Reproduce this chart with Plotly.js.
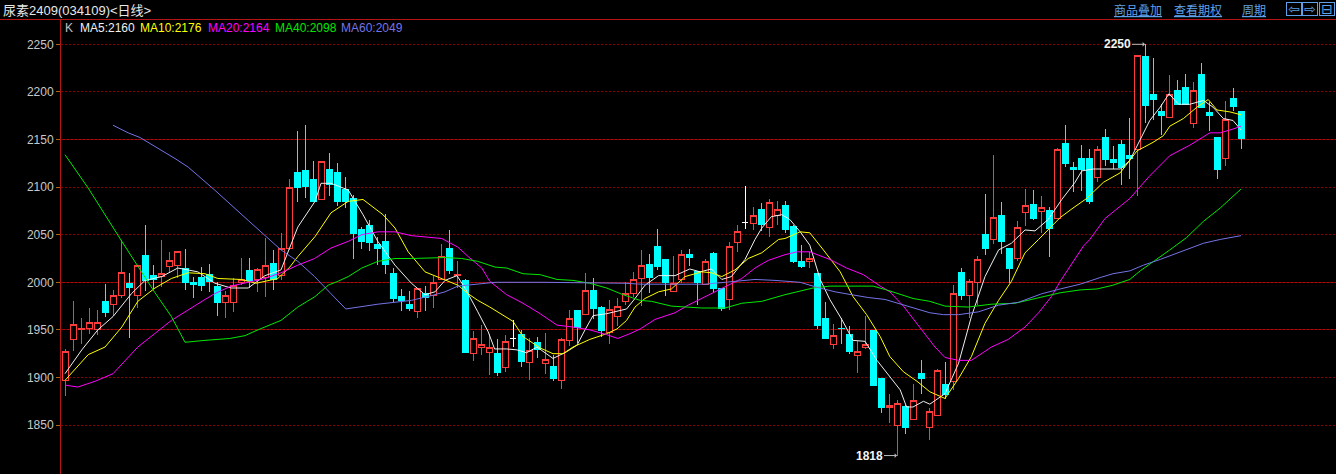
<!DOCTYPE html>
<html><head><meta charset="utf-8">
<script src="https://cdn.plot.ly/plotly-3.0.1.min.js"></script>
<style>html,body{margin:0;padding:0;background:#000;overflow:hidden}#chart{width:1336px;height:474px}
#chart .boxlayer path{shape-rendering:crispEdges}
#chart .shapelayer path{shape-rendering:crispEdges}
#chart .gridlayer path{shape-rendering:crispEdges}
</style>
</head><body><div id="chart"></div>
<script>
// ---- data ----
const titleText = '尿素2409(034109)<日线>';
const openP = [1897,1940,1950,1952,1950,1980,1977,1986,1999,1986,2028,2007,2006,2017,2018,2015,2000,2005,2008,1996,
1979,1979,2000,2012,2003,2005,2020,2007,2035,2115,2117,2108,2087,2119,2115,2098,2088,2055,2060,2040,
2043,2009,1985,1977,1969,1988,1986,2003,2036,2007,2002,1925,1931,1926,1925,1910,1941,1945,1916,1937,
1915,1912,1897,1939,1970,1966,1991,1974,1947,1964,1980,1988,2004,2019,2038,2024,1990,2003,2029,2011,
1998,2030,1994,1982,2042,2063,2062,2076,2058,2070,2081,2059,2022,2022,2009,1962,1935,1952,1945,1923,
1932,1949,1899,1869,1850,1870,1856,1904,1847,1860,1893,1896,2010,1986,2000,2050,2045,2070,2035,2025,
2073,2082,2074,2075,2067,2146,2121,2130,2130,2110,2152,2129,2145,2133,2139,2237,2197,2179,2173,2201,
2205,2167,2218,2178,2152,2130,2193,2179];
const highP = [1930,1980,1962,1973,1971,1998,1992,2044,2010,2018,2060,2018,2044,2032,2032,2035,2006,2016,2019,2000,
1991,2005,2026,2026,2015,2047,2034,2052,2108,2159,2165,2127,2127,2136,2125,2111,2092,2058,2065,2048,
2072,2015,1993,1991,1994,1996,2007,2040,2055,2022,2003,1949,1955,1946,1940,1945,1960,1950,1941,1943,
1947,1924,1941,1971,1970,2010,2005,1975,1981,1983,2000,2011,2034,2030,2056,2024,2028,2034,2035,2011,
2025,2032,1994,2042,2060,2101,2079,2083,2088,2085,2085,2060,2039,2032,2009,1979,1956,1962,1954,1938,
1965,1949,1900,1883,1876,1871,1893,1918,1868,1909,1916,1997,2015,2003,2028,2093,2134,2084,2035,2064,
2098,2097,2091,2079,2141,2165,2126,2144,2140,2143,2161,2143,2149,2173,2238,2250,2236,2187,2218,2212,
2219,2210,2230,2189,2152,2190,2204,2180];
const lowP = [1881,1928,1935,1946,1945,1964,1965,1983,1942,1973,1991,1993,1995,2010,2005,1992,1984,1991,1990,1965,
1963,1969,1997,1994,1990,1985,1992,2002,2034,2084,2089,2085,2087,2091,2080,2078,2025,2035,2033,2018,
2009,1979,1970,1970,1963,1970,1973,2003,2009,1994,1926,1917,1924,1903,1902,1906,1932,1911,1897,1920,
1904,1896,1888,1933,1936,1966,1961,1943,1935,1954,1976,1985,1975,1989,2013,1986,1990,1999,2017,1976,
1998,1989,1970,1971,2032,2056,2055,2054,2048,2060,2052,2020,2015,2015,1951,1940,1930,1935,1925,1905,
1930,1892,1863,1852,1818,1841,1855,1883,1834,1860,1877,1887,1981,1962,1976,2029,2040,2030,1999,2022,
2059,2065,2052,2027,2067,2121,2095,2096,2082,2105,2122,2119,2102,2108,2091,2167,2170,2155,2173,2187,
2186,2162,2183,2159,2109,2122,2180,2140];
const closeP = [1927,1956,1952,1958,1958,1968,1986,2010,1995,2018,2002,2003,2009,2023,2032,2000,1998,1997,2001,1979,
1986,1997,2003,2002,2013,2018,2003,2035,2100,2100,2101,2085,2127,2103,2085,2085,2051,2043,2042,2036,
2019,1983,1981,1973,1994,1984,2000,2027,2012,2008,1926,1941,1935,1932,1905,1938,1941,1917,1928,1929,
1919,1899,1940,1962,1953,1991,1973,1949,1971,1975,1988,2003,2018,2005,2017,2000,1999,2029,2026,2000,
2022,1993,1972,2038,2053,2063,2070,2061,2084,2077,2055,2022,2017,2025,1955,1941,1944,1951,1927,1927,
1935,1892,1868,1871,1873,1848,1876,1899,1864,1907,1882,1988,1986,2001,2024,2035,2068,2043,2014,2058,
2081,2067,2079,2056,2139,2125,2119,2118,2085,2140,2129,2126,2121,2130,2238,2186,2192,2175,2197,2187,
2187,2201,2184,2175,2119,2171,2185,2151];

// moving-average lines (x = candle position)
const ma5X = [0,2.1,4.1,6,8.3,10,12.1,14.1,16.6,18.75,20.75,22.9,25,27,29.1,31.25,32,33.25,35.4,37.25,39.1,41.25,43.3,45,46.25,47.5,49,50,51.6,52.9,53.7,55.2,56.5,57.7,59,61,62.7,64,65,66,67.7,69,70.2,71.25,72.5,74.2,76.25,78.1,79.4,80.8,82.1,83.3,85,86.25,87.1,88.3,89.6,90.6,91.9,93.1,94.4,95.6,97.1,98.5,100,101.5,103.1,104.4,105.2,106,107.3,108.1,110,111.7,113.3,115,116.7,118.3,120,121.25,122.9,124.6,126.25,127.1,128.5,131.9,133.1,134.4,135.6,136.9,138,139.2,140.6,142.3,143.5,144.8,146,147];
const ma5Y = [1904,1929,1950,1964,1988,2002,2006,2015,2011,1999,1994,1994,2007,2013,2058,2085,2104,2104,2097,2071,2043,2018,1999,1987,1990,2002,2007,1994,1969,1948,1930,1930,1929,1926,1932,1920,1927,1934,1950,1965,1967,1970,1972,1983,1997,2007,2007,2014,2011,2014,2003,2006,2024,2045,2057,2069,2071,2066,2053,2039,2003,1982,1961,1939,1938,1918,1901,1887,1869,1869,1875,1872,1883,1915,1964,2006,2034,2041,2055,2054,2066,2087,2105,2117,2119,2119,2128,2150,2170,2184,2198,2187,2187,2191,2184,2172,2170,2160];
const ma10X = [0,2.9,5,7.1,9.1,11.25,13.3,15.4,17.5,19.1,22,23.9,26.6,28.1,29.1,31.25,33.25,35.4,37.25,38.4,39.75,41.25,42.9,45,47.1,49.1,50.4,51.6,53.1,54.4,56,57.25,59.4,61,62.25,63.5,65.6,67.7,69,70.2,71.25,72.5,74.2,75.8,77.5,79.6,80.8,82.1,83.75,85.4,87.1,89.2,90,91.9,93.1,94.8,96.9,98.5,100.2,101.9,103.1,104.8,106.5,108.1,110,111.7,113.3,115,116.7,118.3,120,121.7,123.3,124.4,126,127.7,129.8,131.9,134,136,137.3,138.1,139.8,141.5,142.9,144,145.6,147];
const ma10Y = [1897,1924,1932,1953,1980,1994,2004,2010,2009,2004,2003,1999,2004,2016,2027,2048,2073,2085,2087,2080,2071,2057,2032,2011,2004,1997,1988,1981,1974,1967,1959,1943,1931,1925,1925,1932,1940,1946,1951,1960,1974,1983,1990,1993,2006,2011,2010,2006,2013,2025,2031,2045,2046,2053,2052,2034,2011,1985,1966,1943,1922,1906,1896,1885,1878,1899,1922,1957,1981,2001,2031,2045,2059,2068,2078,2088,2105,2115,2138,2147,2154,2164,2172,2184,2192,2181,2179,2176];
const ma20X = [0,1.6,3.75,6,9.1,13.3,17.5,18.7,20.75,22.9,25,27,29.1,31.2,33.25,35.4,37.1,39.1,41.25,43.3,47.1,49.1,50.4,52.1,53.1,55.2,57.25,59.4,61.5,63.5,65.6,67.7,69.1,70.6,71.9,73.75,76.25,77.9,79.6,81.25,82.9,84.6,86.25,87.9,90,91.5,93.1,95.6,97.7,99.8,101.9,103.1,104.8,106,107.3,108.1,108.75,110,111.7,113.3,115.8,117.9,120,121.7,123.3,124.4,126,127.3,128.1,130,133.1,135.5,138.1,140.6,143.1,144.4,146,147];
const ma20Y = [1892,1890,1896,1904,1932,1960,1982,1988,1996,2000,2004,2010,2018,2025,2036,2043,2050,2053,2053,2049,2046,2037,2027,2015,2001,1987,1978,1967,1955,1953,1950,1945,1941,1946,1951,1961,1968,1976,1983,1990,1997,2004,2015,2023,2029,2032,2032,2024,2015,2008,1996,1990,1975,1962,1948,1939,1932,1921,1918,1918,1932,1940,1953,1968,1985,2001,2022,2038,2045,2067,2088,2111,2133,2144,2157,2157,2161,2164];
const ma40X = [0,2.9,7.1,11.25,13.3,15,17.5,20.6,22.5,24.1,27,29.1,31.25,32.9,34.1,35.4,37.1,39.1,41.25,43.3,47.5,49.6,51.6,53.75,55.2,57.25,59.4,61.5,63.5,65.6,67.7,69.75,71.9,73.3,75.8,79.6,82.5,84.6,87.1,89.1,90,91.5,93.5,95.6,97.7,101,102.7,106,108.1,110,112.9,115.8,118.75,121.25,124.4,126.9,129,131,133.1,134.4,136.5,138.1,140.2,142.3,144.4,147];
const ma40Y = [2134,2099,2043,1989,1964,1937,1939,1941,1944,1950,1960,1974,1985,1997,2001,2006,2015,2022,2025,2025,2026,2025,2022,2016,2015,2009,2008,2003,2002,1999,1994,1987,1981,1980,1975,1973,1973,1978,1980,1985,1987,1990,1994,1996,1996,1996,1992,1983,1980,1975,1974,1977,1978,1983,1989,1992,1993,1997,2003,2012,2024,2034,2047,2064,2078,2098];
const ma60X = [6,7.9,9.4,10.4,12.1,13.75,15.4,17.1,18.7,22.9,25,27,29.1,31.2,33.25,35.1,39.1,43.3,45.8,47.5,49.1,51.6,53.75,60,70,72,80,83.75,86.25,88.75,90,91.9,93.9,96.25,98.3,100.4,102.5,104.6,106.7,108.1,109.8,111.7,114.2,116.7,119.2,122.1,124.4,126.9,129.4,131,133.1,134.8,136.9,138.5,140.6,142.3,144.4,147];
const ma60Y = [2165,2157,2152,2147,2139,2130,2121,2109,2097,2065,2049,2034,2022,2006,1988,1972,1977,1981,1986,1990,1996,1998,2000,2000,1999,1998,1998,2001,2003,2002,2001,2000,1995,1990,1987,1984,1982,1977,1972,1968,1966,1966,1969,1976,1979,1988,1993,1998,2005,2009,2012,2018,2024,2029,2035,2041,2045,2049];

const gridLevels = [1850,1900,1950,2000,2050,2100,2150,2200,2250];
const refLevels = [1950,2000,2150];
const maNames = ['MA5','MA10','MA20','MA40','MA60'];
const maColors = ['#f0f0f0','#ffff00','#ff00ff','#00e800','#7474e8'];

// ---- layout geometry ----
const W = 1336, H = 474, L = 61, T = 19;
const pw = W - L, ph = H - T;
const pxX = x => (x - L) / pw;
const pxY = y => (H - y) / ph;
const step = 8;

const pos = openP.map((_, i) => i);
const isDoji = openP.map((o, i) => o === closeP[i]);
const pick = (arr, keep) => arr.filter((_, i) => keep(i));
const normal = i => !isDoji[i], doji = i => isDoji[i];

const traces = [];
traces.push({
  type: 'candlestick', x: pick(pos, normal), open: pick(openP, normal), high: pick(highP, normal),
  low: pick(lowP, normal), close: pick(closeP, normal),
  increasing: {line: {color: '#ff3c3c', width: 1}, fillcolor: '#000000'},
  decreasing: {line: {color: '#00ffff', width: 1}, fillcolor: '#00ffff'},
  whiskerwidth: 0, hoverinfo: 'skip', showlegend: false
});
traces.push({
  type: 'candlestick', x: pick(pos, doji), open: pick(openP, doji), high: pick(highP, doji),
  low: pick(lowP, doji), close: pick(closeP, doji),
  increasing: {line: {color: '#ffffff', width: 1}, fillcolor: '#ffffff'},
  decreasing: {line: {color: '#ffffff', width: 1}, fillcolor: '#ffffff'},
  whiskerwidth: 0, hoverinfo: 'skip', showlegend: false
});
const maXs = [ma5X, ma10X, ma20X, ma40X, ma60X];
const maYs = [ma5Y, ma10Y, ma20Y, ma40Y, ma60Y];
maXs.forEach((xs, k) => traces.push({
  type: 'scatter', mode: 'lines', x: xs, y: maYs[k],
  line: {color: maColors[k], width: 1}, hoverinfo: 'skip', showlegend: false
}));

// ---- annotations ----
const ann = [];
ann.push({xref: 'paper', yref: 'paper', x: pxX(1), y: pxY(10), xanchor: 'left', yanchor: 'middle',
  text: titleText, showarrow: false, font: {family: 'Liberation Sans, Noto Sans CJK SC', size: 13, color: '#e8e8e8'}});
const legendX = [63, 78, 138, 205.7, 272.7, 339.3];
ann.push({xref: 'paper', yref: 'paper', x: pxX(legendX[0]), y: pxY(28), xanchor: 'left', yanchor: 'middle',
  text: 'K', showarrow: false, font: {family: 'Liberation Sans', size: 12, color: '#c0c0c0'}});
maNames.forEach((n, k) => {
  const ys = maYs[k];
  ann.push({xref: 'paper', yref: 'paper', x: pxX(legendX[k + 1]), y: pxY(28), xanchor: 'left', yanchor: 'middle',
    text: n + ':' + Math.round(ys[ys.length - 1]), showarrow: false,
    font: {family: 'Liberation Sans', size: 12, color: maColors[k]}});
});
const links = [['商品叠加', 1112], ['查看期权', 1172], ['周期', 1240]];
links.forEach(([t, x]) => ann.push({xref: 'paper', yref: 'paper', x: pxX(x), y: pxY(9), xanchor: 'left', yanchor: 'middle',
  text: '<span style="text-decoration:underline">' + t + '</span>', showarrow: false,
  font: {family: 'Noto Sans CJK SC', size: 12, color: '#5fa0e8'}}));
const icons = [['⇦', 1293.5], ['⇨', 1310], ['⊟', 1327]];
icons.forEach(([t, x]) => ann.push({xref: 'paper', yref: 'paper', x: pxX(x), y: pxY(8.5), xanchor: 'center', yanchor: 'middle',
  text: t, showarrow: false, width: 14, height: 12, bordercolor: '#5fa0e8', borderwidth: 1, borderpad: 0,
  font: {family: 'DejaVu Sans', size: 14, color: '#5fa0e8'}}));

const maxHigh = Math.max(...highP), maxIdx = highP.indexOf(maxHigh);
const minLow = Math.min(...lowP), minIdx = lowP.indexOf(minLow);
[[maxIdx, maxHigh], [minIdx, minLow]].forEach(([i, v]) => ann.push({
  x: i, y: v, xref: 'x', yref: 'y', text: '<b>' + v + '</b>', showarrow: true, ax: -28, ay: 0,
  arrowhead: 1, arrowsize: 0.8, arrowwidth: 1, arrowcolor: '#bcbcbc', standoff: 0,
  font: {family: 'Liberation Sans', size: 12, color: '#f4f4f4'}
}));

// ---- shapes ----
const shapes = refLevels.map(v => ({type: 'line', xref: 'paper', x0: 0, x1: 1, yref: 'y', y0: v, y1: v,
  line: {color: '#a01010', width: 1}, layer: 'below'}));
shapes.push({type: 'line', xref: 'paper', x0: pxX(0), x1: 1, yref: 'paper', y0: 1, y1: 1,
  line: {color: '#b41414', width: 1}});

const yPerPx = 50 / 47.6;
const yAt = py => 2000 - (py - 282.3) * yPerPx;

const layout = {
  width: W, height: H, margin: {l: L, r: 0, t: T, b: 0, pad: 0},
  paper_bgcolor: '#000000', plot_bgcolor: '#000000', showlegend: false,
  boxgap: 0.25, boxgroupgap: 0,
  xaxis: {range: [-0.5, -0.5 + pw / step], visible: false, rangeslider: {visible: false}, fixedrange: true},
  yaxis: {range: [yAt(H), yAt(T)], tickvals: gridLevels, ticktext: gridLevels.map(String),
    showgrid: true, gridcolor: '#8a0000', griddash: '2px,2px', gridwidth: 1,
    showline: true, linecolor: '#b41414', linewidth: 1, zeroline: false,
    ticks: 'outside', ticklen: 4, tickcolor: '#b06010',
    tickfont: {family: 'Liberation Sans', size: 12, color: '#c8c8c8'}, fixedrange: true},
  annotations: ann, shapes: shapes
};
Plotly.newPlot('chart', traces, layout, {staticPlot: true, displayModeBar: false});
</script></body></html>
